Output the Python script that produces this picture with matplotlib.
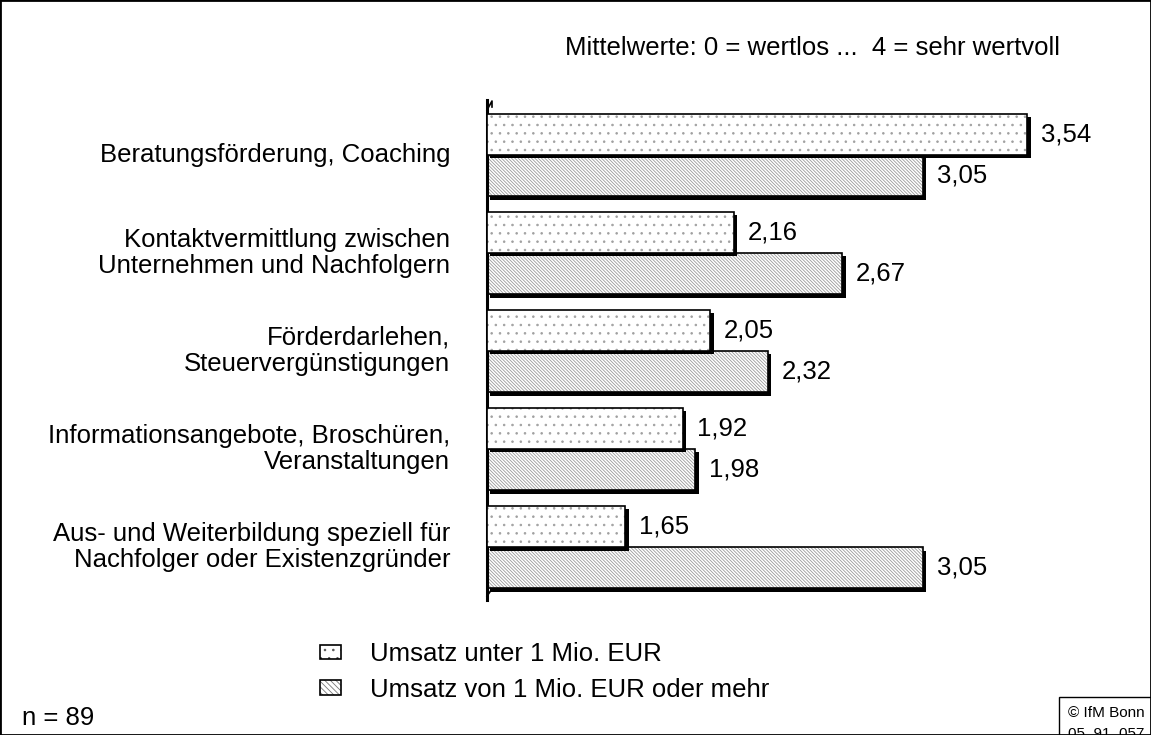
import numpy as np
import matplotlib
matplotlib.use("Agg")
import matplotlib.pyplot as plt
import matplotlib.patheffects as pe
from matplotlib.patches import Patch, Rectangle
from matplotlib.legend_handler import HandlerTuple

plt.rcParams['font.family'] = ['Liberation Sans', 'DejaVu Sans']
plt.rcParams['hatch.linewidth'] = 0.6

# categories, top to bottom
categories = [
    "Beratungsförderung, Coaching",
    "Kontaktvermittlung zwischen\nUnternehmen und Nachfolgern",
    "Förderdarlehen,\nSteuervergünstigungen",
    "Informationsangebote, Broschüren,\nVeranstaltungen",
    "Aus- und Weiterbildung speziell für\nNachfolger oder Existenzgründer",
]
small_firms = [3.54, 2.16, 2.05, 1.92, 1.65]   # Umsatz unter 1 Mio. EUR
large_firms = [3.05, 2.67, 2.32, 1.98, 3.05]   # Umsatz von 1 Mio. EUR oder mehr
series_labels = ["Umsatz unter 1 Mio. EUR", "Umsatz von 1 Mio. EUR oder mehr"]

W, H = 1151, 735
fs = 18.5
fig = plt.figure(figsize=(W / 100, H / 100), dpi=100)
ax = fig.add_axes([487 / W, 1 - 600 / H, 638 / W, 500 / H])

y = np.arange(len(categories))
bh = 0.42
shadow = [pe.SimplePatchShadow(offset=(2.5, -2.5), shadow_rgbFace='black', alpha=1.0)]

def draw_bars(vals, pos, hatch, hcolor, z):
    widths = np.array(vals) - 1
    # black drop shadow, drawn only through the path effect
    sb = ax.barh(pos, widths, left=1, height=bh, color='black', linewidth=0, zorder=z)
    for p in sb:
        p.set_path_effects(shadow)
    ax.barh(pos, widths, left=1, height=bh, color='white', edgecolor=hcolor,
            hatch=hatch, linewidth=0, zorder=z + 0.2)
    ax.barh(pos, widths, left=1, height=bh, color='none', edgecolor='black',
            linewidth=1.2, zorder=z + 0.4)
    for v, yy in zip(vals, pos):
        ax.annotate(f"{v:.2f}".replace('.', ','), (v, yy), xytext=(10, 0),
                    textcoords='offset points', va='center', ha='left', fontsize=fs)

# lower bar first so the upper bar's shadow sits on top of it
draw_bars(large_firms, y + bh / 2, '\\' * 10, '#9a9a9a', 2)
draw_bars(small_firms, y - bh / 2, '..', '#a0a0a0', 3)

ax.set_xlim(1, 4)
ax.set_ylim(4.54, -0.56)
for s in ['top', 'right', 'bottom']:
    ax.spines[s].set_visible(False)
ax.spines['left'].set_linewidth(2.2)
ax.set_xticks([])
ax.set_yticks([])

# small perspective edges at both ends of the value axis
tr = ax.transAxes
dx, dy = 1 / 638, 1 / 500
ax.plot([0, 5 * dx, 5 * dx], [1 - 10 * dy, 1 - 1 * dy, 1 - 7 * dy], color='black',
        lw=1.2, transform=tr, clip_on=False)
ax.plot([0, 5 * dx, 5 * dx], [4 * dy, 11 * dy, 14 * dy], color='black',
        lw=1.2, transform=tr, clip_on=False)

for yy, lab in zip(y, categories):
    ax.text(-37 / 638, yy, lab, transform=ax.get_yaxis_transform(), ha='right',
            va='center', fontsize=fs, linespacing=1.15)

fig.text(565 / W, 1 - 48 / H, "Mittelwerte: 0 = wertlos ...  4 = sehr wertvoll",
         ha='left', va='center', fontsize=fs)
fig.text(22 / W, 1 - 718 / H, "n = 89", ha='left', va='center', fontsize=fs)
fig.text(1068 / W, 1 - 706 / H, "© IfM Bonn\n05  91  057", ha='left', va='top',
         fontsize=11, linespacing=1.6,
         bbox=dict(boxstyle='square,pad=0.6', facecolor='white', edgecolor='black', lw=1))

h1 = (Patch(facecolor='white', edgecolor='#555555', hatch='..', lw=0),
      Patch(facecolor='none', edgecolor='black', lw=1.2))
h2 = (Patch(facecolor='white', edgecolor='#777777', hatch='\\' * 6, lw=0),
      Patch(facecolor='none', edgecolor='black', lw=1.2))
fig.legend([h1, h2], series_labels, handler_map={tuple: HandlerTuple(ndivide=1, pad=0)},
           loc='upper left', bbox_to_anchor=(320 / W, 1 - 642 / H), frameon=False,
           fontsize=fs, handlelength=0.8, handleheight=0.5, handletextpad=1.15,
           labelspacing=0.45, borderaxespad=0, borderpad=0)

fig.patches.append(Rectangle((0, 0), 1, 1, transform=fig.transFigure, fill=False,
                             edgecolor='black', lw=2, zorder=10))

fig.savefig("out.png", dpi=100)
